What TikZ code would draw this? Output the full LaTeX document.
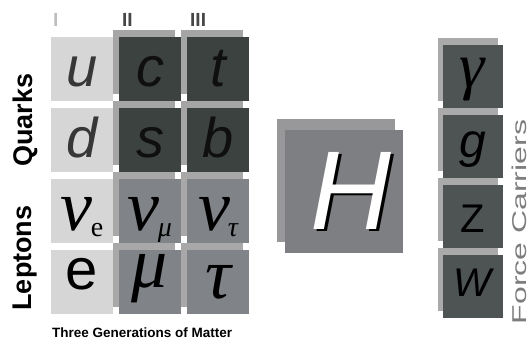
\documentclass[tikz,border=0pt]{standalone}
\usepackage{graphicx}
\usepackage{fontspec}
\setsansfont{Liberation Sans}
\newfontfamily\greekfont{Liberation Serif}
\usepackage{xcolor}
\usepackage{tikz}
\usetikzlibrary{positioning,calc,shadows}

\definecolor{lightcell}{RGB}{214,214,214}
\definecolor{paleink}{RGB}{55,55,55}
\definecolor{quarkdark}{RGB}{60,66,64}
\definecolor{quarkback}{RGB}{165,165,165}
\definecolor{darkink}{RGB}{15,15,15}
\definecolor{leptonmid}{RGB}{128,131,135}
\definecolor{leptonback}{RGB}{168,168,168}
\definecolor{bosondark}{RGB}{78,84,84}
\definecolor{bosonback}{RGB}{170,170,170}
\definecolor{higgsfront}{RGB}{126,127,130}
\definecolor{higgsback}{RGB}{152,152,154}
\definecolor{numink}{RGB}{70,70,70}
\definecolor{palenum}{RGB}{190,190,190}
\definecolor{carrierink}{RGB}{125,125,125}

\newcommand{\nusub}[1]{{\itshape ν}\kern-2pt\raisebox{-6pt}{\fontsize{28}{28}\selectfont #1}}

\begin{document}
\begin{tikzpicture}[
  x=1pt, y=1pt,
  node distance=7pt and 6pt,
  cell/.style={minimum width=62pt, minimum height=64pt, inner sep=0pt, outer sep=0pt, text height=34pt, text depth=0pt, font=\fontsize{56}{56}\selectfont\sffamily\itshape},
  genI/.style={cell, fill=lightcell, text=paleink},
  quark/.style={cell, fill=quarkdark, text=darkink, general shadow={shadow xshift=-6pt, shadow yshift=7pt, fill=quarkback}},
  lepton/.style={cell, fill=leptonmid, general shadow={shadow xshift=-6pt, shadow yshift=7pt, fill=leptonback}},
  greek/.style={font=\fontsize{72}{72}\selectfont\greekfont\itshape},
  boson/.style={cell, minimum width=60pt, minimum height=63pt, fill=bosondark, general shadow={shadow xshift=-5pt, shadow yshift=7pt, fill=bosonback}},
  higgs/.style={minimum width=118pt, minimum height=123pt, inner sep=0pt, fill=higgsfront, general shadow={shadow xshift=-8pt, shadow yshift=11pt, fill=higgsback}},
  hglyph/.style={inner sep=0pt, anchor=base, font=\fontsize{112}{112}\selectfont\sffamily\itshape},
  numeral/.style={inner sep=0pt, text=numink, font=\fontsize{19}{19}\selectfont\sffamily\bfseries},
  rowlabel/.style={rotate=90, inner sep=0pt, font=\fontsize{27}{27}\selectfont\sffamily\bfseries}
]
\path[use as bounding box, fill=white] (0,0) rectangle (531,346);

% three generations
\node[genI] (u) at (82,276.5) {u};
\node[quark, right=of u] (c) {c};
\node[quark, right=of c] (t) {t};
\node[genI, below=of u] (d) {d};
\node[quark, right=of d] (s) {s};
\node[quark, right=of s] (b) {b};
\node[genI, greek, text=black, text height=38pt, below=of d] (nue) {\nusub{\upshape e}};
\node[lepton, greek, text height=38pt, right=of nue] (numu) {\nusub{μ}};
\node[lepton, greek, text height=38pt, right=of numu] (nutau) {\nusub{τ}};
\node[genI, text=black, text height=14pt, font=\fontsize{58}{58}\selectfont\sffamily, below=of nue] (e) {e};
\node[lepton, greek, text height=10pt, right=of e] (mu) {μ};
\node[lepton, greek, text height=32pt, right=of mu] (tau) {τ};

\node[numeral, text=palenum, above right=11pt and 2pt of u.north west] (genone) {I};
\node[numeral, above right=11pt and 3pt of c.north west] (gentwo) {II};
\node[numeral, above right=11pt and 3pt of t.north west] (genthree) {III};

\node[rowlabel] (quarks) at (25,226) {Quarks};
\node[rowlabel] (leptons) at (25,88) {Leptons};
\node[inner sep=0pt, anchor=west, font=\fontsize{13.5}{13.5}\selectfont\sffamily\bfseries] (matter) at (52,13) {Three Generations of Matter};

% higgs
\node[higgs] (higgs) at (344,154.5) {};
\node[hglyph, text=black] (hshade) at ($(higgs.center)+(10pt,-40pt)$) {H};
\node[hglyph, text=white] (hletter) at ($(higgs.center)+(7pt,-38pt)$) {H};

% force carriers
\node[boson, greek, font=\fontsize{64}{64}\selectfont\greekfont\itshape, text height=23pt] (gamma) at (472.5,269.5) {γ};
\node[boson, text height=23pt, font=\fontsize{48}{48}\selectfont\sffamily\itshape, below=of gamma] (g) {g};
\node[boson, text height=33pt, font=\fontsize{40}{40}\selectfont\sffamily, below=of g] (Z) {Z};
\node[boson, text height=21pt, font=\fontsize{40}{40}\selectfont\sffamily\itshape, below=of Z] (W) {W};
\node[rotate=90, inner sep=0pt, text=carrierink, font=\fontsize{20}{20}\selectfont\sffamily] (carriers) at (519,124) {\scalebox{1.6}[1]{Force Carriers}};
\end{tikzpicture}
\end{document}
